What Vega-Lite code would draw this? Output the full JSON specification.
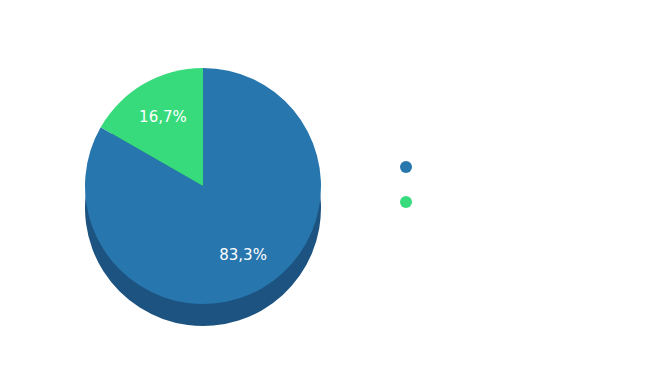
{
  "$schema": "https://vega.github.io/schema/vega-lite/v6.json",
  "width": 406,
  "height": 372,
  "padding": 0,
  "autosize": "pad",
  "background": "#ffffff",
  "config": {"view": {"stroke": null}},
  "data": {
    "values": [
      {"cat": "A", "idx": 1, "value": 83.3, "label": "83,3%"},
      {"cat": "B", "idx": 2, "value": 16.7, "label": "16,7%"}
    ]
  },
  "layer": [
    {
      "mark": {"type": "arc", "radius": 118, "yOffset": 22, "color": "#1c5380"},
      "encoding": {
        "theta": {"field": "value", "type": "quantitative", "stack": true},
        "order": {"field": "idx", "type": "quantitative"}
      }
    },
    {
      "mark": {"type": "arc", "radius": 118},
      "encoding": {
        "theta": {"field": "value", "type": "quantitative", "stack": true},
        "order": {"field": "idx", "type": "quantitative"},
        "color": {
          "field": "cat",
          "type": "nominal",
          "scale": {"domain": ["A", "B"], "range": ["#2876ae", "#37db7c"]},
          "legend": {
            "orient": "none",
            "legendX": 400,
            "legendY": 161,
            "title": null,
            "symbolType": "circle",
            "symbolSize": 144,
            "symbolStrokeWidth": 0,
            "labelExpr": "''",
            "rowPadding": 23
          }
        }
      }
    },
    {
      "mark": {"type": "text", "radius": 80, "font": "DejaVu Sans", "fontSize": 15, "color": "#ffffff", "align": "center", "baseline": "middle"},
      "encoding": {
        "theta": {"field": "value", "type": "quantitative", "stack": true},
        "order": {"field": "idx", "type": "quantitative"},
        "detail": {"field": "cat", "type": "nominal"},
        "text": {"field": "label", "type": "nominal"}
      }
    }
  ]
}
